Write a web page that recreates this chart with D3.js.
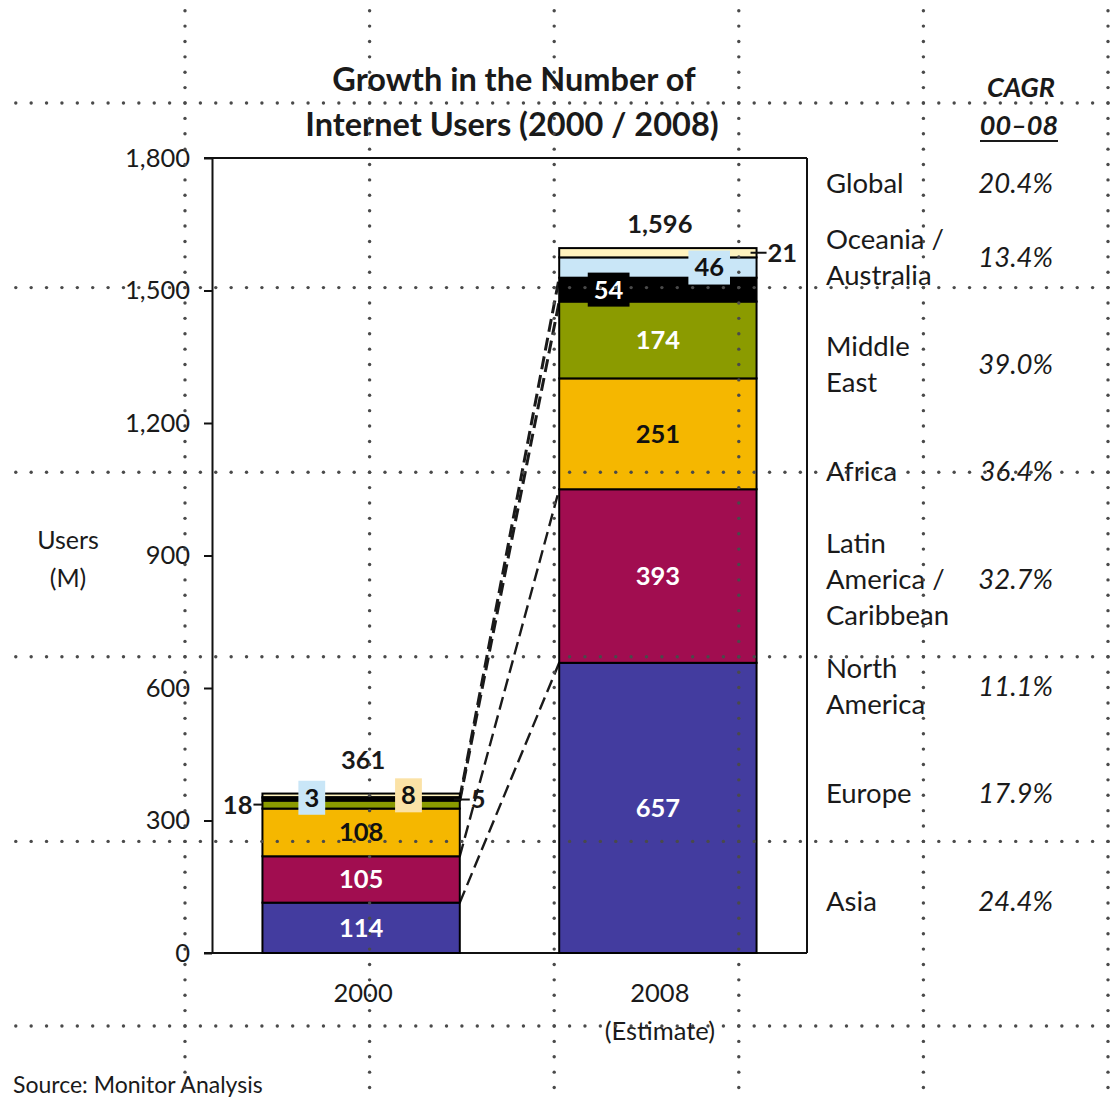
<!DOCTYPE html>
<html>
<head>
<meta charset="utf-8">
<script src="https://cdn.jsdelivr.net/npm/d3@7"></script>
<style>
  html, body { margin: 0; padding: 0; background: #fff; }
  svg { display: block; font-family: Lato, "Open Sans", sans-serif; }
</style>
</head>
<body>
<svg id="chart" width="1120" height="1100"></svg>
<script>
// ---- Internet users by region (millions) ----
const years = ["2000", "2008"];
const yearLabels = [["2000"], ["2008", "(Estimate)"]];
const regions = ["Asia", "Europe", "North America", "Latin America / Caribbean",
                 "Africa", "Middle East", "Oceania / Australia"];
const users2000 = [114, 105, 108, 18, 5, 3, 8];
const users2008 = [657, 393, 251, 174, 54, 46, 21];
const totals = [361, 1596];
const legendLines = [["Asia"], ["Europe"], ["North", "America"],
                     ["Latin", "America /", "Caribbean"], ["Africa"],
                     ["Middle", "East"], ["Oceania /", "Australia"]];
const cagr = ["24.4%", "17.9%", "11.1%", "32.7%", "36.4%", "39.0%", "13.4%"];
const globalLabel = "Global";
const globalCagr = "20.4%";
const yTicks = [0, 300, 600, 900, 1200, 1500, 1800];
const linkedRegions = ["Asia", "Europe", "Latin America / Caribbean", "Africa"];

// ---- styling ----
const regionColor = {
  "Asia": "#433C9F",
  "Europe": "#A10D50",
  "North America": "#F5B700",
  "Latin America / Caribbean": "#8B9B00",
  "Africa": "#000000",
  "Middle East": "#C9E6F7",
  "Oceania / Australia": "#FFF3BE"
};
const labelInk = {
  "Asia": "#fff", "Europe": "#fff", "North America": "#111",
  "Latin America / Caribbean": "#fff", "Africa": "#fff",
  "Middle East": "#111", "Oceania / Australia": "#111"
};
// how each small segment's value is placed
const labelMode = {
  "2000": {
    "Latin America / Caribbean": { mode: "left" },
    "Africa": { mode: "right" },
    "Middle East": { mode: "box", fx: 0.25, fill: "#C9E6F7", ink: "#111" },
    "Oceania / Australia": { mode: "box", fx: 0.74, fill: "#FBE2A6", ink: "#111" }
  },
  "2008": {
    "Africa": { mode: "box", fx: 0.25, fill: "#000", ink: "#fff" },
    "Middle East": { mode: "box", fx: 0.76, fill: "#C9E6F7", ink: "#111" },
    "Oceania / Australia": { mode: "right" }
  }
};
const totalGap = { "2000": 33, "2008": 24 };
const ink = "#1a1a1a";

const svg = d3.select("#chart");
const plot = { left: 212, right: 807, top: 158, bottom: 953 };

const y = d3.scaleLinear().domain([0, 1800]).range([plot.bottom, plot.top]);
const x = d3.scaleBand().domain(years).range([plot.left, plot.right])
  .paddingInner(0.335).paddingOuter(0.17);

const rows = years.map((yr, i) => {
  const r = { year: yr };
  const vals = i === 0 ? users2000 : users2008;
  regions.forEach((k, j) => r[k] = vals[j]);
  return r;
});
const series = d3.stack().keys(regions)(rows);

// ---- title ----
const title = svg.append("g").attr("font-weight", 700).attr("font-size", 32.5)
  .attr("fill", ink).attr("text-anchor", "middle");
title.append("text").attr("x", 514).attr("y", 80).attr("dy", "0.35em").text("Growth in the Number of");
title.append("text").attr("x", 512).attr("y", 125).attr("dy", "0.35em").text("Internet Users (2000 / 2008)");

// ---- y axis ----
const yAxis = svg.append("g").attr("transform", `translate(${plot.left},0)`)
  .call(d3.axisLeft(y).tickValues(yTicks).tickSize(8).tickSizeOuter(0)
    .tickPadding(14).tickFormat(d3.format(",")));
yAxis.select(".domain").attr("stroke", "#111").attr("stroke-width", 2);
yAxis.selectAll(".tick line").attr("stroke", "#111").attr("stroke-width", 2);
yAxis.selectAll(".tick text").attr("font-size", 25.5).attr("fill", ink)
  .attr("font-family", "Lato, sans-serif");

// frame: top, right, bottom
const frame = svg.append("g").attr("stroke", "#111").attr("stroke-width", 2).attr("fill", "none");
frame.append("line").attr("x1", plot.left - 8).attr("x2", plot.right)
  .attr("y1", y(1800)).attr("y2", y(1800));
frame.append("line").attr("x1", plot.right).attr("x2", plot.right)
  .attr("y1", y(1800)).attr("y2", y(0));
frame.append("line").attr("x1", plot.left - 8).attr("x2", plot.right)
  .attr("y1", y(0)).attr("y2", y(0));

// y title
const yTitle = svg.append("g").attr("font-size", 25).attr("fill", ink).attr("text-anchor", "middle");
yTitle.append("text").attr("x", 68).attr("y", 540).attr("dy", "0.35em").text("Users");
yTitle.append("text").attr("x", 68).attr("y", 578).attr("dy", "0.35em").text("(M)");

// x labels
const xl = svg.append("g").attr("font-size", 25.5).attr("fill", ink).attr("text-anchor", "middle");
years.forEach((yr, i) => {
  yearLabels[i].forEach((t, j) => {
    xl.append("text").attr("x", x(yr) + x.bandwidth() / 2 + 2)
      .attr("y", 993 + j * 38).attr("dy", "0.35em").text(t);
  });
});

// ---- connectors between bars ----
const links = svg.append("g").attr("fill", "none").attr("stroke", "#1a1a1a")
  .attr("stroke-dasharray", "13 6");
linkedRegions.forEach((k, i) => {
  const s = series.find(d => d.key === k);
  links.append("line")
    .attr("x1", x(years[0]) + x.bandwidth()).attr("y1", y(s[0][1]))
    .attr("x2", x(years[1])).attr("y2", y(s[1][1]))
    .attr("stroke-width", i < 2 ? 2.4 : 3);
});

// ---- stacked bars ----
svg.append("g").selectAll("g").data(series).join("g")
  .attr("fill", d => regionColor[d.key])
  .selectAll("rect").data(d => d).join("rect")
  .attr("x", d => x(d.data.year))
  .attr("y", d => y(d[1]))
  .attr("width", x.bandwidth())
  .attr("height", d => y(d[0]) - y(d[1]))
  .attr("stroke", "#000").attr("stroke-width", 2);

// ---- segment labels ----
const lab = svg.append("g").attr("font-weight", 700).attr("font-size", 25.5);
series.forEach(s => {
  s.forEach(d => {
    const yr = d.data.year;
    const v = d[1] - d[0];
    const cy = y((d[0] + d[1]) / 2);
    const x0 = x(yr), x1 = x(yr) + x.bandwidth();
    const m = (labelMode[yr] || {})[s.key];
    if (!m) {
      lab.append("text").attr("x", (x0 + x1) / 2).attr("y", cy).attr("dy", "0.35em")
        .attr("text-anchor", "middle").attr("fill", labelInk[s.key]).text(v);
    } else if (m.mode === "left") {
      lab.append("line").attr("x1", x0 - 9).attr("x2", x0).attr("y1", cy).attr("y2", cy)
        .attr("stroke", "#111").attr("stroke-width", 2);
      lab.append("text").attr("x", x0 - 10).attr("y", cy).attr("dy", "0.35em")
        .attr("text-anchor", "end").attr("fill", ink).text(v);
    } else if (m.mode === "right") {
      lab.append("line").attr("x1", x1 - 6).attr("x2", x1 + 10).attr("y1", cy).attr("y2", cy)
        .attr("stroke", "#111").attr("stroke-width", 2);
      lab.append("text").attr("x", x1 + 11).attr("y", cy).attr("dy", "0.35em")
        .attr("text-anchor", "start").attr("fill", ink).text(v);
    } else {
      const cx = x0 + m.fx * (x1 - x0);
      const g = lab.append("g");
      const t = g.append("text").attr("x", cx).attr("y", cy).attr("dy", "0.35em")
        .attr("text-anchor", "middle").attr("fill", m.ink).text(v);
      const bb = t.node().getBBox();
      g.insert("rect", "text").attr("x", bb.x - 6).attr("width", bb.width + 12)
        .attr("y", cy - 17).attr("height", 34).attr("fill", m.fill);
    }
  });
});

// totals
const tot = svg.append("g").attr("font-weight", 700).attr("font-size", 25.5)
  .attr("fill", ink).attr("text-anchor", "middle");
years.forEach((yr, i) => {
  tot.append("text").attr("x", x(yr) + x.bandwidth() / 2 + 2)
    .attr("y", y(totals[i]) - totalGap[yr]).attr("dy", "0.35em")
    .text(d3.format(",")(totals[i]));
});

// ---- region legend with growth rates ----
const leg = svg.append("g").attr("fill", ink);
const hdr = leg.append("g").attr("font-weight", 700).attr("font-style", "italic")
  .attr("font-size", 27).attr("text-anchor", "middle");
hdr.append("text").attr("x", 1021).attr("y", 88).attr("dy", "0.35em").text("CAGR");
hdr.append("text").attr("x", 1019).attr("y", 126).attr("dy", "0.35em").text("00–08");
leg.append("line").attr("x1", 980).attr("x2", 1058).attr("y1", 141).attr("y2", 141)
  .attr("stroke", ink).attr("stroke-width", 2.2);

const rowY = d3.scaleLinear().domain([0, regions.length - 1]).range([901, 257]);
const lineGap = 36;
const fs = 27.5;
regions.forEach((k, i) => {
  const cy = rowY(i);
  const lines = legendLines[i];
  lines.forEach((t, j) => {
    leg.append("text").attr("x", 826)
      .attr("y", cy + (j - (lines.length - 1) / 2) * lineGap).attr("dy", "0.35em")
      .attr("font-size", fs).text(t);
  });
  leg.append("text").attr("x", 1053).attr("y", cy).attr("dy", "0.35em")
    .attr("text-anchor", "end").attr("font-style", "italic").attr("font-size", fs).text(cagr[i]);
});
leg.append("text").attr("x", 826).attr("y", 183).attr("dy", "0.35em").attr("font-size", fs).text(globalLabel);
leg.append("text").attr("x", 1053).attr("y", 183).attr("dy", "0.35em")
  .attr("text-anchor", "end").attr("font-style", "italic").attr("font-size", fs).text(globalCagr);

// source note
svg.append("text").attr("x", 13).attr("y", 1093).attr("font-size", 23).attr("fill", ink)
  .text("Source: Monitor Analysis");

// ---- dotted layout guides drawn over the page ----
const gridStep = 184.6, dotStep = gridStep / 12, gx0 = 185, gy0 = 103;
const guide = svg.append("g").attr("fill", "#4a4a4a");
const gxs = d3.range(6).map(i => gx0 + i * gridStep);
const gys = d3.range(6).map(i => gy0 + i * gridStep);
const dots = [];
gys.forEach(gy => {
  for (let px = gx0 - dotStep * 11; px < 1120; px += dotStep) dots.push([px, gy]);
});
gxs.forEach(gx => {
  for (let py = gy0 - dotStep * 6; py < 1100; py += dotStep) dots.push([gx, py]);
});
guide.selectAll("circle").data(dots).join("circle")
  .attr("cx", d => d[0]).attr("cy", d => d[1]).attr("r", 1.7);
</script>
</body>
</html>
